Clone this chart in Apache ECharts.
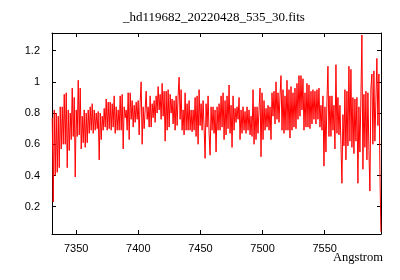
<!DOCTYPE html>
<html><head><meta charset="utf-8">
<script src="https://cdn.jsdelivr.net/npm/echarts@6/dist/echarts.min.js"></script>
<style>html,body{margin:0;padding:0;background:#fff}#c{width:400px;height:280px}</style>
</head><body><div id="c"></div>
<script>
const titleText = '_hd119682_20220428_535_30.fits';
const xAxisName = 'Angstrom';
const xTicks = [7350, 7400, 7450, 7500, 7550];
const yTicks = [0.2, 0.4, 0.6, 0.8, 1, 1.2];
const xRange = [7330.5, 7595.3];
const yRange = [0.025, 1.313];
// sampling grid of the spectrum (Angstrom)
const lambdaStart = 7330.7;
const lambdaStep = 0.804;
// flux values
const flux = [
 0.77,0.23,0.82,0.40,0.80,0.42,0.78,0.45,0.84,0.57,
 0.84,0.60,0.92,0.60,0.93,0.45,0.82,0.56,0.80,0.63,
 0.96,0.65,0.90,0.39,0.82,0.65,1.01,0.66,0.96,0.57,
 0.78,0.61,0.82,0.58,0.80,0.61,0.82,0.67,0.84,0.69,
 0.86,0.67,0.82,0.69,0.80,0.70,0.81,0.50,0.80,0.63,
 0.78,0.69,0.83,0.71,0.89,0.69,0.87,0.70,0.87,0.69,
 0.86,0.71,0.91,0.67,0.84,0.69,0.82,0.69,0.91,0.69,
 0.92,0.57,0.84,0.77,0.82,0.69,0.93,0.63,0.93,0.76,
 0.88,0.71,0.85,0.74,0.87,0.76,0.88,0.66,0.87,1.00,
 0.60,0.84,0.70,0.82,0.94,0.76,0.84,0.71,0.91,0.71,
 0.86,0.77,0.88,0.74,0.91,0.80,0.97,0.82,0.92,0.76,
 0.99,0.78,0.94,0.62,0.94,0.69,0.95,0.71,0.92,0.80,
 0.89,0.73,0.88,0.69,0.91,0.72,0.91,1.03,0.76,0.95,
 0.69,0.82,0.66,0.93,0.69,0.86,0.69,0.88,0.69,0.82,
 0.68,0.82,0.69,0.90,0.65,0.91,0.60,0.95,0.72,0.86,
 0.69,0.88,0.71,0.51,0.86,0.71,0.91,0.67,0.53,0.84,
 0.69,0.84,0.67,0.82,0.55,0.84,0.69,0.86,0.69,0.91,
 0.71,0.93,0.63,0.88,0.66,0.91,0.70,0.98,0.67,0.85,
 0.58,0.91,0.69,0.83,0.74,0.84,0.76,0.90,0.63,0.82,
 0.67,0.84,0.69,0.81,0.67,0.84,0.69,0.82,0.66,0.78,
 0.65,0.95,0.60,0.84,0.63,0.84,0.67,0.82,0.96,0.52,
 0.93,0.63,0.88,0.69,0.83,0.71,0.85,0.69,0.84,0.63,
 0.93,0.78,0.94,0.73,1.00,0.76,0.93,0.74,0.91,1.04,
 0.69,0.95,0.67,0.91,0.69,1.01,0.69,0.95,0.64,0.97,
 0.69,0.93,0.71,0.96,0.70,0.99,0.76,1.04,0.78,1.04,
 0.82,1.02,0.69,0.93,0.71,0.99,0.71,0.98,0.70,0.94,
 0.73,0.95,0.76,0.94,0.73,0.95,0.76,0.96,0.71,0.85,
 0.69,0.91,0.46,0.84,0.55,0.88,1.10,0.65,0.91,0.65,
 0.91,0.69,0.85,0.57,1.11,0.67,0.90,0.66,0.85,0.60,
 0.35,0.79,0.59,0.95,0.50,0.94,0.59,1.10,0.62,1.08,
 0.58,0.90,0.54,0.89,0.62,0.90,0.35,0.84,0.55,0.90,
 1.30,0.44,0.92,0.58,0.94,0.50,0.93,0.56,0.30,0.96,
 1.05,0.60,1.07,0.62,0.88,1.15,0.72,1.05,0.44,0.04
];

const seriesData = flux.map((v, i) => [lambdaStart + i * lambdaStep, v]);

const labelFont = { fontFamily: 'Liberation Sans', fontSize: 11, color: '#000' };
const lineStyle = { color: '#000', width: 1 };

function xAx(pos, showLabel) {
  return {
    type: 'value', position: pos, min: xRange[0], max: xRange[1],
    splitNumber: 5,
    axisLine: { show: true, onZero: false, lineStyle },
    axisTick: { show: true, inside: true, length: 4, lineStyle, customValues: xTicks },
    axisLabel: Object.assign({ show: showLabel, margin: 9, customValues: xTicks,
      formatter: v => String(Math.round(v)) }, labelFont),
    splitLine: { show: false }
  };
}
function yAx(pos, showLabel) {
  return {
    type: 'value', position: pos, min: yRange[0], max: yRange[1],
    splitNumber: 6,
    axisLine: { show: true, onZero: false, lineStyle },
    axisTick: { show: true, inside: true, length: 4, lineStyle, customValues: yTicks },
    axisLabel: Object.assign({ show: showLabel, margin: 12, customValues: yTicks,
      formatter: v => String(Math.round(v * 10) / 10) }, labelFont),
    splitLine: { show: false }
  };
}

const chart = echarts.init(document.getElementById('c'), null, { renderer: 'canvas' });
chart.setOption({
  animation: false,
  backgroundColor: '#fff',
  grid: { left: 52, right: 19, top: 33, bottom: 46, containLabel: false },
  xAxis: [xAx('bottom', true), xAx('top', false)],
  yAxis: [yAx('left', true), yAx('right', false)],
  graphic: [
    { type: 'text', left: 214 - 91, top: 11,
      style: { text: titleText, fontFamily: 'Liberation Serif', fontSize: 13, fill: '#000' } },
    { type: 'text', right: 17, top: 251,
      style: { text: xAxisName, fontFamily: 'Liberation Serif', fontSize: 12.5, fill: '#000' } }
  ],
  series: [{
    type: 'line', xAxisIndex: 0, yAxisIndex: 0,
    data: seriesData, showSymbol: false, symbol: 'none',
    lineStyle: { color: '#ff0000', width: 1 },
    clip: true
  }]
});
</script>
</body></html>
